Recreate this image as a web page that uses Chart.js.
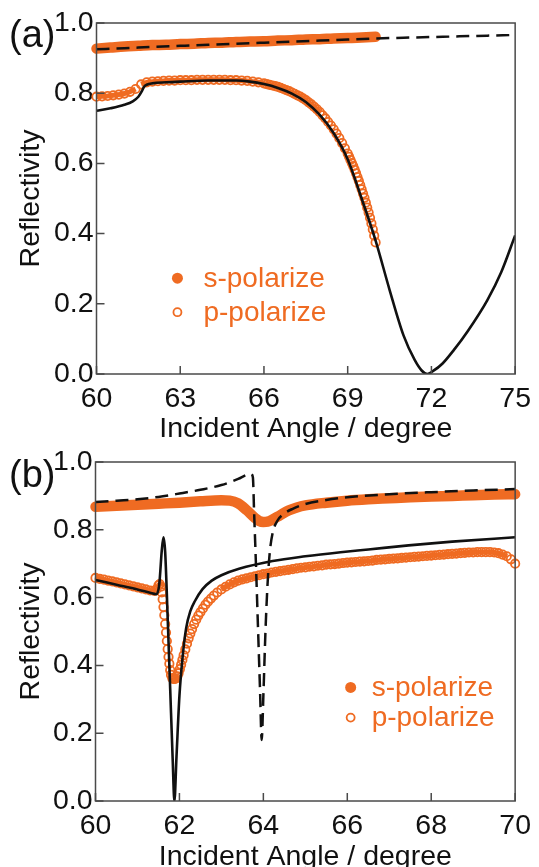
<!DOCTYPE html>
<html lang="en">
<head>
  <meta charset="UTF-8" />
  <title>Reflectivity vs Incident Angle</title>
  <script src="https://cdn.jsdelivr.net/npm/chart.js"></script>
  <style>
    body { margin: 0; background: #fff; }
    #wrap { position: relative; width: 539px; height: 867px; overflow: hidden; background: #fff; }
    .panel { position: absolute; left: 0; width: 539px; }
    #pa { top: 0; height: 445px; }
    #pb { top: 440px; height: 440px; }
  </style>
</head>
<body>
  <div id="wrap">
    <div class="panel" id="pa"><canvas id="chartA"></canvas></div>
    <div class="panel" id="pb"><canvas id="chartB"></canvas></div>
  </div>

  <script>
    // ---- panel (a) ----
    const xTicksA = [60, 63, 66, 69, 72, 75];
    const yTicks = [0, 0.2, 0.4, 0.6, 0.8, 1.0];

    const angA_s = [60.0, 60.5, 61.0, 61.5, 62.0, 62.5, 63.0, 63.5, 64.0, 64.5, 65.0, 65.5, 66.0, 66.5, 67.0, 67.5, 68.0, 68.5, 69.0, 69.5, 70.0];
    const refA_s = [0.927, 0.930, 0.933, 0.935, 0.937, 0.938, 0.940, 0.941, 0.943, 0.944, 0.946, 0.947, 0.948, 0.950, 0.951, 0.953, 0.954, 0.956, 0.957, 0.959, 0.961];

    const angA_p = [60.0, 60.2, 60.4, 60.6, 60.8, 61.0, 61.2, 61.4, 61.6, 61.8, 62.0, 62.2, 62.4, 62.6, 62.8, 63.0, 63.2, 63.4, 63.6, 63.8,
                    64.0, 64.2, 64.4, 64.6, 64.8, 65.0, 65.2, 65.4, 65.6, 65.8,
                    66.0, 66.1, 66.2, 66.3, 66.4, 66.5, 66.6, 66.7, 66.8, 66.9, 67.0, 67.1, 67.2, 67.3, 67.4, 67.5, 67.6, 67.7, 67.8, 67.9,
                    68.0, 68.1, 68.2, 68.3, 68.4, 68.5, 68.6, 68.7, 68.8, 68.9,
                    69.0, 69.05, 69.1, 69.15, 69.2, 69.25, 69.3, 69.35, 69.4, 69.45, 69.5, 69.55, 69.6, 69.65, 69.7, 69.75, 69.8, 69.85, 69.9, 69.95, 70.0];
    const refA_p = [0.790, 0.791, 0.792, 0.794, 0.796, 0.799, 0.804, 0.812, 0.825, 0.831, 0.833, 0.834, 0.835, 0.836, 0.836, 0.837, 0.837, 0.837, 0.838, 0.838,
                    0.838, 0.838, 0.838, 0.838, 0.837, 0.837, 0.836, 0.835, 0.833, 0.831,
                    0.828, 0.826, 0.824, 0.822, 0.820, 0.818, 0.815, 0.812, 0.809, 0.806, 0.802, 0.798, 0.794, 0.790, 0.785, 0.780, 0.774, 0.768, 0.761, 0.754,
                    0.746, 0.737, 0.728, 0.718, 0.708, 0.697, 0.685, 0.672, 0.658, 0.643,
                    0.628, 0.619, 0.610, 0.601, 0.592, 0.582, 0.572, 0.561, 0.550, 0.538, 0.526, 0.514, 0.502, 0.488, 0.474, 0.460, 0.445, 0.429, 0.412, 0.394, 0.375];

    const angA_thS = [60, 61, 62, 63, 64, 65, 66, 67, 68, 69, 70, 71, 72, 73, 74, 75];
    const refA_thS = [0.925, 0.928, 0.932, 0.935, 0.938, 0.941, 0.944, 0.947, 0.950, 0.953, 0.956, 0.958, 0.960, 0.962, 0.964, 0.966];

    const angA_thP = [60, 60.5, 61, 61.3, 61.5, 61.62, 61.7, 61.8, 62, 62.5, 63, 64, 65, 65.5, 66, 66.5, 67, 67.5, 68, 68.5,
                      69, 69.5, 70, 70.5, 71, 71.4, 71.65, 71.85, 72.05, 72.4, 72.8, 73.3, 74, 74.5, 75];
    const refA_thP = [0.750, 0.757, 0.767, 0.777, 0.790, 0.805, 0.818, 0.824, 0.828, 0.831, 0.833, 0.836, 0.836, 0.833, 0.826, 0.815, 0.799, 0.775, 0.738, 0.686,
                      0.612, 0.500, 0.380, 0.240, 0.110, 0.040, 0.010, 0.000, 0.008, 0.030, 0.068, 0.122, 0.210, 0.290, 0.395];

    // ---- panel (b) ----
    const xTicksB = [60, 62, 64, 66, 68, 70];

    const angB_s = [60.0, 60.5, 61.0, 61.5, 62.0, 62.5, 63.0, 63.2, 63.4, 63.6, 63.8, 63.9, 64.0, 64.1, 64.2, 64.4, 64.6, 64.8, 65.0, 65.5, 66.0, 66.5, 67.0, 67.5, 68.0, 68.5, 69.0, 69.5, 70.0];
    const refB_s = [0.868, 0.871, 0.874, 0.877, 0.880, 0.884, 0.887, 0.886, 0.878, 0.858, 0.835, 0.826, 0.823, 0.824, 0.829, 0.843, 0.857, 0.866, 0.872, 0.880, 0.886, 0.890, 0.893, 0.896, 0.898, 0.900, 0.902, 0.904, 0.905];

    const angB_p = [60.0, 60.1, 60.2, 60.3, 60.4, 60.5, 60.6, 60.7, 60.8, 60.9, 61.0, 61.1, 61.2, 61.3, 61.4,
                    61.45, 61.5, 61.53, 61.56, 61.58, 61.60, 61.62, 61.64, 61.66, 61.68, 61.70, 61.72, 61.74, 61.76, 61.78, 61.80,
                    61.83, 61.86, 61.89, 61.92, 61.95, 61.98, 62.01, 62.04, 62.07, 62.10, 62.14, 62.18, 62.22, 62.26, 62.30,
                    62.35, 62.40, 62.45, 62.50, 62.56, 62.62, 62.68, 62.75, 62.82, 62.9,
                    63.0, 63.1, 63.2, 63.3, 63.4, 63.5, 63.6, 63.7, 63.8, 63.9, 64.0, 64.1, 64.2, 64.3, 64.4, 64.5, 64.6, 64.7, 64.8, 64.9,
                    65.0, 65.1, 65.2, 65.3, 65.4, 65.5, 65.6, 65.7, 65.8, 65.9, 66.0, 66.1, 66.2, 66.3, 66.4, 66.5, 66.6, 66.7, 66.8, 66.9,
                    67.0, 67.1, 67.2, 67.3, 67.4, 67.5, 67.6, 67.7, 67.8, 67.9, 68.0, 68.1, 68.2, 68.3, 68.4, 68.5, 68.6, 68.7, 68.8, 68.9,
                    69.0, 69.1, 69.2, 69.3, 69.4, 69.5, 69.6, 69.7, 69.8, 69.9, 70.0];
    const refB_p = [0.658, 0.655, 0.653, 0.650, 0.648, 0.645, 0.642, 0.639, 0.636, 0.633, 0.630, 0.627, 0.624, 0.621, 0.620,
                    0.624, 0.636, 0.640, 0.632, 0.615, 0.595, 0.572, 0.548, 0.522, 0.497, 0.472, 0.448, 0.425, 0.405, 0.386, 0.372,
                    0.362, 0.360, 0.360, 0.362, 0.368, 0.377, 0.389, 0.402, 0.416, 0.430, 0.447, 0.464, 0.480, 0.494, 0.507,
                    0.522, 0.535, 0.547, 0.557, 0.568, 0.579, 0.588, 0.597, 0.606, 0.615,
                    0.624, 0.632, 0.639, 0.645, 0.650, 0.654, 0.657, 0.660, 0.663, 0.666, 0.669, 0.671, 0.674, 0.676, 0.678, 0.680, 0.682, 0.684, 0.686, 0.688,
                    0.689, 0.691, 0.692, 0.694, 0.695, 0.697, 0.698, 0.699, 0.700, 0.702, 0.703, 0.704, 0.705, 0.706, 0.707, 0.708, 0.709, 0.711, 0.712, 0.713,
                    0.714, 0.715, 0.716, 0.717, 0.718, 0.719, 0.720, 0.721, 0.722, 0.723, 0.724, 0.725, 0.726, 0.727, 0.728, 0.729, 0.730, 0.731, 0.732, 0.733,
                    0.733, 0.734, 0.734, 0.734, 0.734, 0.733, 0.731, 0.727, 0.722, 0.713, 0.700];

    const angB_thS = [60, 60.5, 61, 61.5, 62, 62.5, 63, 63.4, 63.6, 63.7, 63.75, 63.78, 63.82, 63.87, 63.92, 63.96, 64.0, 64.05, 64.1, 64.15,
                      64.22, 64.33, 64.5, 64.7, 65, 65.5, 66, 67, 68, 69, 70];
    const refB_thS = [0.882, 0.886, 0.890, 0.897, 0.907, 0.918, 0.932, 0.950, 0.962, 0.965, 0.955, 0.850, 0.710, 0.520, 0.330, 0.180, 0.310, 0.500, 0.640, 0.730,
                      0.790, 0.826, 0.848, 0.862, 0.876, 0.888, 0.896, 0.905, 0.911, 0.916, 0.920];

    const angB_thP = [60, 60.5, 61, 61.3, 61.45, 61.52, 61.58, 61.62, 61.66, 61.72, 61.78, 61.84, 61.88, 61.93, 62.0, 62.08, 62.16, 62.26, 62.37, 62.55,
                      62.77, 63.0, 63.42, 64.22, 65.0, 65.84, 66.5, 67.46, 68.5, 70];
    const refB_thP = [0.652, 0.638, 0.624, 0.614, 0.610, 0.640, 0.740, 0.778, 0.735, 0.540, 0.330, 0.120, 0.000, 0.130, 0.310, 0.430, 0.510, 0.560, 0.590, 0.625,
                      0.650, 0.666, 0.685, 0.708, 0.722, 0.734, 0.742, 0.754, 0.765, 0.778];

    const seriesNames = ['s-polarize', 'p-polarize'];

    const ORANGE = '#ef6b22';
    const FONT = "'Liberation Sans', Arial, sans-serif";
    const FS = 28.5;

    const pts = (xs, ys) => xs.map((x, i) => ({ x: x, y: ys[i] }));

    // frame, inward ticks, panel letter and the little legend
    const panelDecor = {
      id: 'panelDecor',
      afterDatasetsDraw(chart, args, opts) {
        const { ctx, chartArea: a, scales: { x, y } } = chart;
        ctx.save();
        ctx.strokeStyle = '#4a4a4a';
        ctx.lineWidth = 1.5;
        ctx.strokeRect(a.left, a.top, a.right - a.left, a.bottom - a.top);
        ctx.beginPath();
        x.ticks.forEach(t => {
          const px = x.getPixelForValue(t.value);
          ctx.moveTo(px, a.bottom); ctx.lineTo(px, a.bottom - 8);
        });
        y.ticks.forEach(t => {
          const py = y.getPixelForValue(t.value);
          ctx.moveTo(a.left, py); ctx.lineTo(a.left + 8, py);
        });
        ctx.stroke();

        ctx.fillStyle = '#111';
        ctx.font = '38px ' + FONT;
        ctx.textBaseline = 'alphabetic';
        ctx.textAlign = 'left';
        ctx.fillText(opts.label, 9, opts.labelY);

        // legend
        const lg = opts.legend;
        const mx = x.getPixelForValue(lg.x);
        ctx.font = '28px ' + FONT;
        ctx.textBaseline = 'middle';
        seriesNames.forEach((name, i) => {
          const my = y.getPixelForValue(lg.y[i]);
          ctx.beginPath();
          if (i === 0) {
            ctx.fillStyle = ORANGE;
            ctx.arc(mx, my, 5.5, 0, Math.PI * 2);
            ctx.fill();
          } else {
            ctx.strokeStyle = ORANGE;
            ctx.lineWidth = 1.8;
            ctx.fillStyle = '#fff';
            ctx.arc(mx, my, 4, 0, Math.PI * 2);
            ctx.fill();
            ctx.stroke();
          }
          ctx.fillStyle = ORANGE;
          ctx.fillText(name, mx + lg.dx, my + 1);
        });
        ctx.restore();
      }
    };

    // the open-circle series looks like a solid band where the rings overlap
    const bandSegment = c =>
      (Math.abs(c.p1.y - c.p0.y) < 3 && Math.abs(c.p1.x - c.p0.x) < 7) ? ORANGE : 'rgba(0,0,0,0)';

    function makeChart(id, cfg) {
      const datasets = [
        { label: 's-polarize', data: pts(cfg.sx, cfg.sy), showLine: true, borderColor: ORANGE, borderWidth: 10.5,
          borderCapStyle: 'round', borderJoinStyle: 'round', pointRadius: 0, cubicInterpolationMode: 'monotone', clip: 8, order: 3 },
        { label: 'p-polarize', data: pts(cfg.px, cfg.py), showLine: true, borderWidth: 5, borderColor: ORANGE,
          segment: { borderColor: bandSegment },
          pointStyle: 'circle', pointRadius: 4.2, pointBorderWidth: 1.8, pointBorderColor: ORANGE,
          pointBackgroundColor: 'rgba(255,255,255,0)', clip: 8, order: 2 },
        { label: 's theory', data: pts(cfg.tsx, cfg.tsy), showLine: true, borderColor: '#111', borderWidth: 2.5,
          borderDash: [13, 7], pointRadius: 0, cubicInterpolationMode: 'monotone', order: 1 },
        { label: 'p theory', data: pts(cfg.tpx, cfg.tpy), showLine: true, borderColor: '#111', borderWidth: 2.6,
          pointRadius: 0, cubicInterpolationMode: 'monotone', order: 0 }
      ];

      return new Chart(document.getElementById(id), {
        type: 'scatter',
        data: { datasets: datasets },
        plugins: [panelDecor],
        options: {
          responsive: true,
          maintainAspectRatio: false,
          animation: false,
          events: [],
          layout: { padding: { top: cfg.padTop, right: cfg.padRight, left: 0, bottom: 0 } },
          plugins: {
            legend: { display: false },
            tooltip: { enabled: false },
            panelDecor: { label: cfg.label, labelY: cfg.labelY, legend: cfg.legend }
          },
          scales: {
            x: {
              type: 'linear',
              min: cfg.xTicks[0],
              max: cfg.xTicks[cfg.xTicks.length - 1],
              afterBuildTicks: s => { s.ticks = cfg.xTicks.map(v => ({ value: v })); },
              afterFit: s => { s.height = cfg.xHeight; },
              grid: { display: false, drawTicks: false },
              border: { display: false },
              ticks: { padding: 8, color: '#111', font: { family: FONT, size: FS }, maxRotation: 0, autoSkip: false },
              title: { display: true, text: 'Incident Angle / degree', color: '#111',
                       font: { family: FONT, size: FS, lineHeight: 1 }, padding: { top: 0, bottom: cfg.titlePad } }
            },
            y: {
              type: 'linear',
              min: 0,
              max: 1,
              afterBuildTicks: s => { s.ticks = yTicks.map(v => ({ value: v })); },
              afterFit: s => { s.width = cfg.yWidth; },
              grid: { display: false, drawTicks: false },
              border: { display: false },
              ticks: { padding: 3, color: '#111', font: { family: FONT, size: FS }, callback: v => v.toFixed(1) },
              title: { display: true, text: 'Reflectivity', color: '#111',
                       font: { family: FONT, size: FS, lineHeight: 1 }, padding: { top: 17, bottom: 0 } }
            }
          }
        }
      });
    }

    makeChart('chartA', {
      sx: angA_s, sy: refA_s, px: angA_p, py: refA_p,
      tsx: angA_thS, tsy: refA_thS, tpx: angA_thP, tpy: refA_thP,
      xTicks: xTicksA, padTop: 23, padRight: 16, yWidth: 96.5, xHeight: 71, titlePad: 1.75,
      label: '(a)', labelY: 47,
      legend: { x: 62.9, y: [0.273, 0.176], dx: 26 }
    });

    makeChart('chartB', {
      sx: angB_s, sy: refB_s, px: angB_p, py: refB_p,
      tsx: angB_thS, tsy: refB_thS, tpx: angB_thP, tpy: refB_thP,
      xTicks: xTicksB, padTop: 22, padRight: 17, yWidth: 95.5, xHeight: 79, titlePad: 8.75,
      label: '(b)', labelY: 47,
      legend: { x: 66.08, y: [0.335, 0.246], dx: 21 }
    });
  </script>
</body>
</html>
